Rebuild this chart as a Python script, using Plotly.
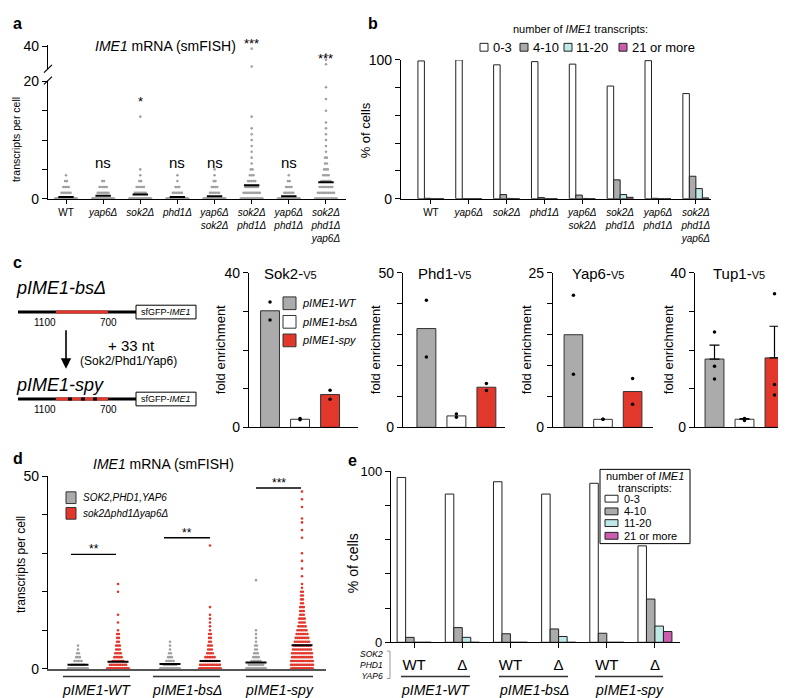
import numpy as np
import plotly.graph_objects as go

W, H = 786, 698
FONT = "Liberation Sans, Arial, Helvetica, sans-serif"


def fx(p):
    return p / W


def fy(p):
    return 1 - p / H


# ------------------------------------------------------------------ DATA
# Panel a: IME1 smFISH, transcripts per cell (value: number of cells drawn)
strains = ["WT", "yap6Δ", "sok2Δ", "phd1Δ", "yap6Δ sok2Δ",
           "sok2Δ phd1Δ", "yap6Δ phd1Δ", "sok2Δ phd1Δ yap6Δ"]
a_WT = {0: 60, 1: 6, 2: 4, 3: 2, 4: 1}
a_yap6 = {0: 60, 1: 7, 2: 5, 3: 2}
a_sok2 = {0: 60, 1: 7, 2: 5, 3: 2, 4: 1, 5: 1, 14: 1}
a_phd1 = {0: 60, 1: 6, 2: 3, 3: 1, 4: 1}
a_yap6sok2 = {0: 60, 1: 6, 2: 4, 3: 2, 4: 1, 5: 1}
a_sok2phd1 = {0: 50, 1: 10, 2: 8, 3: 5, 4: 3, 5: 2, 6: 1, 7: 1, 8: 1, 9: 1,
              10: 1, 11: 1, 12: 1, 14: 1, 22: 1, 38: 1}
a_yap6phd1 = {0: 60, 1: 6, 2: 4, 3: 2, 4: 1}
a_triple = {0: 45, 1: 10, 2: 8, 3: 6, 4: 4, 5: 3, 6: 2, 7: 2, 8: 1, 9: 1,
            10: 1, 11: 1, 12: 1, 13: 1, 15: 1, 17: 1, 19: 1, 24: 1, 28: 1, 33: 1}
a_counts = [a_WT, a_yap6, a_sok2, a_phd1, a_yap6sok2, a_sok2phd1, a_yap6phd1, a_triple]
a_mean = [0.3, 0.5, 0.7, 0.3, 0.4, 2.3, 0.4, 2.8]
a_sig = ["", "ns", "*", "ns", "ns", "***", "ns", "***"]

# Panel b: % of cells per transcript class
b_classes = ["0-3", "4-10", "11-20", "21 or more"]
b_0_3 = [99.3, 100, 96.5, 98.8, 97.0, 81.2, 99.5, 75.8]
b_4_10 = [0.3, 0, 3.0, 0.8, 2.6, 13.6, 0.3, 16.2]
b_11_20 = [0, 0, 0.2, 0, 0.2, 3.0, 0, 7.3]
b_21 = [0, 0, 0, 0, 0, 1.0, 0, 0.6]

# Panel c: ChIP fold enrichment
c_groups = ["pIME1-WT", "pIME1-bsΔ", "pIME1-spy"]
sok2_mean = [30.2, 2.1, 8.5]
sok2_reps = [[32.5, 27.8], [2.3, 2.0], [9.6, 7.3]]
phd1_mean = [32.0, 3.7, 13.0]
phd1_reps = [[41.2, 22.8], [4.3, 3.3], [14.2, 11.9]]
yap6_mean = [15.0, 1.3, 5.8]
yap6_reps = [[21.4, 8.6], [1.3, 1.3], [7.9, 3.75]]
tup1_mean = [17.7, 2.1, 18.0]
tup1_reps = [[24.7, 15.8, 12.5], [2.3, 2.2, 1.8], [34.6, 11.1, 8.4]]
tup1_sem = [3.6, 0.15, 8.2]

# Panel d: smFISH per promoter, wild type (gray) vs triple deletion (red)
d_labels = ["pIME1-WT", "pIME1-bsΔ", "pIME1-spy"]
d_gray_WT = {0: 60, 1: 8, 2: 5, 3: 3, 4: 2, 5: 1, 6: 1}
d_red_WT = {0: 60, 1: 10, 2: 7, 3: 5, 4: 4, 5: 3, 6: 3, 7: 2, 8: 2, 9: 2, 10: 1,
            12: 1, 14: 1, 20: 1, 22: 1}
d_gray_bs = {0: 60, 1: 8, 2: 5, 3: 3, 4: 2, 5: 1, 6: 1, 7: 1}
d_red_bs = {0: 60, 1: 12, 2: 8, 3: 6, 4: 4, 5: 3, 6: 3, 7: 2, 8: 2, 9: 2, 10: 1,
            11: 1, 12: 1, 13: 1, 14: 1, 16: 1, 32: 1}
d_gray_spy = {0: 60, 1: 9, 2: 6, 3: 4, 4: 3, 5: 2, 6: 2, 7: 1, 8: 1, 9: 1, 10: 1, 23: 1}
d_red_spy = {0: 60, 1: 14, 2: 13, 3: 12, 4: 12, 5: 11, 6: 10, 7: 9, 8: 8, 9: 7,
             10: 6, 11: 5, 12: 4, 13: 4, 14: 3, 15: 3, 16: 3, 17: 2, 18: 2, 19: 2,
             20: 2, 21: 1, 22: 1, 24: 1, 26: 1, 28: 1, 30: 1, 34: 1, 36: 1, 38: 1,
             39: 1, 42: 1, 44: 1, 46: 1}
d_gray = [d_gray_WT, d_gray_bs, d_gray_spy]
d_red = [d_red_WT, d_red_bs, d_red_spy]
d_gray_mean = [1.0, 1.2, 1.6]
d_red_mean = [1.8, 2.0, 6.1]
d_sig = ["**", "**", "***"]

# Panel e: % of cells per transcript class
e_cats = ["WT", "Δ", "WT", "Δ", "WT", "Δ"]
e_0_3 = [96.4, 86.7, 93.9, 86.7, 93.0, 56.4]
e_4_10 = [2.9, 8.6, 5.0, 7.8, 5.3, 25.3]
e_11_20 = [0, 2.9, 0, 3.4, 0, 9.5]
e_21 = [0, 0, 0, 0, 0, 6.3]

# ------------------------------------------------------------------ STYLE
C_WHITE, C_GRAY, C_CYAN, C_MAG = "#ffffff", "#ababab", "#bfe9e7", "#cc5cb0"
C_RED = "#e2372b"
C_DOTG = "#a0a0a0"
class_colors = [C_WHITE, C_GRAY, C_CYAN, C_MAG]

fig = go.Figure()
ann, shp = [], []


def txt(x, y, s, size=12, xa="center", ya="middle", angle=0, color="black", align="center"):
    ann.append(dict(x=fx(x), y=fy(y), xref="paper", yref="paper", text=s,
                    showarrow=False, font=dict(family=FONT, size=size, color=color),
                    xanchor=xa, yanchor=ya, textangle=angle, align=align))


def line(x0, y0, x1, y1, color="black", width=1.2):
    shp.append(dict(type="line", xref="paper", yref="paper", x0=fx(x0), y0=fy(y0),
                    x1=fx(x1), y1=fy(y1), line=dict(color=color, width=width)))


def rect(x0, y0, x1, y1, fill="white", color="black", width=1):
    shp.append(dict(type="rect", xref="paper", yref="paper", x0=fx(x0), y0=fy(y0),
                    x1=fx(x1), y1=fy(y1), fillcolor=fill, line=dict(color=color, width=width)))


def rows(center, counts, ppu, step=1.8, maxw=22):
    xs, ys = [], []
    for v, n in counts.items():
        w = min((n - 1) * step, maxw)
        offs = np.linspace(-w / 2, w / 2, n) if n > 1 else np.array([0.0])
        xs.extend((center + offs / ppu).tolist())
        ys.extend([v] * n)
    return xs, ys


def tick_label(s):
    if s == "WT":
        return "WT"
    return "<br>".join(f"<i>{p}</i>" for p in s.split())


AX = dict(showgrid=False, zeroline=False, showline=True, linecolor="black",
          linewidth=1.2, ticks="outside", tickcolor="black", tickwidth=1.2,
          ticklen=5, tickfont=dict(family=FONT, size=14, color="black"))

# ------------------------------------------------------------------ PANEL a
ppu_a = 37.14
lx, ly, ux, uy = [], [], [], []
for i, cnt in enumerate(a_counts):
    xs, ys = rows(i, cnt, ppu_a)
    for xv, yv in zip(xs, ys):
        if yv <= 20:
            lx.append(xv); ly.append(yv)
        else:
            ux.append(xv); uy.append(yv)
fig.add_trace(go.Scatter(x=lx, y=ly, mode="markers", xaxis="x", yaxis="y",
                         marker=dict(size=2.6, color=C_DOTG), hoverinfo="skip"))
fig.add_trace(go.Scatter(x=ux, y=uy, mode="markers", xaxis="x", yaxis="y2",
                         marker=dict(size=2.6, color=C_DOTG), hoverinfo="skip"))
fig.add_trace(go.Scatter(x=list(range(len(strains))), y=a_mean, mode="markers",
                         xaxis="x", yaxis="y",
                         marker=dict(symbol="line-ew", size=11, line=dict(width=2, color="black"))))

# ------------------------------------------------------------------ PANEL b
wb = 6.5 / 37.86
for k, (vals, nm) in enumerate(zip([b_0_3, b_4_10, b_11_20, b_21], b_classes)):
    fig.add_trace(go.Bar(x=list(range(len(strains))), y=vals, xaxis="x2", yaxis="y3",
                         width=wb, offset=(k - 2) * wb, name=nm,
                         marker=dict(color=class_colors[k], line=dict(color="#222", width=1))))

# ------------------------------------------------------------------ PANEL c
c_sets = [(sok2_mean, sok2_reps, None), (phd1_mean, phd1_reps, None),
          (yap6_mean, yap6_reps, None), (tup1_mean, tup1_reps, tup1_sem)]
for j, (mean, reps, sem) in enumerate(c_sets):
    xa, ya = f"x{3 + j}", f"y{4 + j}"
    bar = dict(x=[0, 1, 2], y=mean, xaxis=xa, yaxis=ya, width=0.63,
               marker=dict(color=[C_GRAY, C_WHITE, C_RED], line=dict(color="#333", width=1)))
    if sem is not None:
        bar["error_y"] = dict(type="data", symmetric=False, array=sem, arrayminus=[0, 0, 0],
                              color="black", thickness=1.2, width=5)
    fig.add_trace(go.Bar(**bar))
    rx, ry = [], []
    for g, rv in enumerate(reps):
        rx.extend([g] * len(rv)); ry.extend(rv)
    fig.add_trace(go.Scatter(x=rx, y=ry, mode="markers", xaxis=xa, yaxis=ya,
                             marker=dict(size=3.5, color="black")))

# ------------------------------------------------------------------ PANEL d
d_pos_gray = [0, 2.3, 4.45]
d_pos_red = [1, 3.3, 5.6]
ppu_d = 40
gx, gy, rx_, ry_ = [], [], [], []
for i in range(3):
    xs, ys = rows(d_pos_gray[i], d_gray[i], ppu_d, maxw=20)
    gx += xs; gy += ys
    xs, ys = rows(d_pos_red[i], d_red[i], ppu_d, maxw=22)
    rx_ += xs; ry_ += ys
fig.add_trace(go.Scatter(x=gx, y=gy, mode="markers", xaxis="x7", yaxis="y8",
                         marker=dict(size=2.6, color=C_DOTG)))
fig.add_trace(go.Scatter(x=rx_, y=ry_, mode="markers", xaxis="x7", yaxis="y8",
                         marker=dict(size=2.6, color=C_RED)))
fig.add_trace(go.Scatter(x=d_pos_gray + d_pos_red, y=d_gray_mean + d_red_mean,
                         mode="markers", xaxis="x7", yaxis="y8",
                         marker=dict(symbol="line-ew", size=15, line=dict(width=2, color="black"))))

# ------------------------------------------------------------------ PANEL e
we = 8.5 / 48.2
for k, (vals, nm) in enumerate(zip([e_0_3, e_4_10, e_11_20, e_21], b_classes)):
    fig.add_trace(go.Bar(x=list(range(len(e_cats))), y=vals, xaxis="x8", yaxis="y9",
                         width=we, offset=(k - 2) * we, name=nm,
                         marker=dict(color=class_colors[k], line=dict(color="#222", width=1))))

# ------------------------------------------------------------------ AXES
lay = {}
lay["xaxis"] = dict(AX, domain=[fx(40), fx(338)], range=[-0.485, 7.54], anchor="y",
                    tickvals=list(range(8)), ticktext=[tick_label(s) for s in strains],
                    tickfont=dict(family=FONT, size=10, color="black"), ticklen=4)
lay["yaxis"] = dict(AX, domain=[fy(187), fy(67)], range=[0, 20], anchor="x",
                    tickvals=[0, 5, 10, 15, 20], ticktext=["0", "", "", "", "20"])
lay["yaxis2"] = dict(AX, domain=[fy(54), fy(30)], range=[20, 41], anchor="x",
                     tickvals=[40], ticktext=["40"])
lay["xaxis2"] = dict(AX, domain=[fx(393), fx(703)], range=[-0.79, 7.4], anchor="y3",
                     tickvals=list(range(8)), ticktext=[tick_label(s) for s in strains],
                     tickfont=dict(family=FONT, size=10, color="black"), ticklen=4)
lay["yaxis3"] = dict(AX, domain=[fy(187), fy(45)], range=[0, 100], anchor="x2",
                     tickvals=[0, 20, 40, 60, 80, 100], ticktext=["0", "", "", "", "", "100"])
c_dom = [(241, 350, -0.7, 2.93, 40, 10), (395, 497, -0.78, 2.62, 50, 10),
         (545, 645, -0.69, 2.69, 25, 5), (687, 786, -0.65, 2.65, 40, 10)]
for j, (x0, x1, r0, r1, ymax, step) in enumerate(c_dom):
    tv = list(range(0, ymax + 1, step))
    lay[f"xaxis{3 + j}"] = dict(AX, domain=[fx(x0), fx(x1)], range=[r0, r1],
                                anchor=f"y{4 + j}", ticks="", showticklabels=False)
    lay[f"yaxis{4 + j}"] = dict(AX, domain=[fy(421), fy(263)], range=[0, ymax],
                                anchor=f"x{3 + j}", tickvals=tv,
                                ticktext=["0"] + [""] * (len(tv) - 2) + [str(ymax)])
lay["xaxis7"] = dict(AX, domain=[fx(40), fx(318)], range=[-0.75, 6.2], anchor="y8",
                     ticks="", showticklabels=False, linecolor="#555", linewidth=2)
lay["yaxis8"] = dict(AX, domain=[fy(668), fy(471)], range=[0, 50], anchor="x7",
                     tickvals=[0, 10, 20, 30, 40, 50], ticktext=["0", "", "", "", "", "50"])
lay["xaxis8"] = dict(AX, domain=[fx(383), fx(672)], range=[-0.48, 5.52], anchor="y9",
                     tickvals=list(range(6)), ticktext=e_cats,
                     tickfont=dict(family=FONT, size=15, color="black"), ticklabelstandoff=4)
lay["yaxis9"] = dict(AX, domain=[fy(641), fy(466)], range=[0, 100], anchor="x8",
                     tickvals=[0, 20, 40, 60, 80, 100], ticktext=["0", "", "", "", "", "100"],
                     tickfont=dict(family=FONT, size=13, color="black"))

# ------------------------------------------------------------------ ANNOTATIONS / SHAPES
# panel letters
for s, x, y in [("a", 3, 8), ("b", 358, 8), ("c", 3, 252), ("d", 3, 453), ("e", 338, 455)]:
    txt(x, y, f"<b>{s}</b>", size=16, xa="left")

# panel a
txt(157, 31, "<i>IME1</i> mRNA (smFISH)", size=14)
txt(8, 127, "transcripts per cell", size=10.5, angle=-90)
sig_y = {"ns": 150, "*": 87, "***": 28}
for i, s in enumerate(a_sig):
    if not s:
        continue
    px = 58 + i * 37.14
    yy = sig_y[s]
    if i == 7:
        yy = 43
    txt(px, yy, s, size=15 if s == "ns" else 13)
line(36, 58, 44, 50, width=1.2)
line(36, 70, 44, 62, width=1.2)

# panel b
txt(357, 117, "% of cells", size=13, angle=-90)
txt(572, 13, "number of <i>IME1</i> transcripts:", size=11)
for k, (bx, tx, nm) in enumerate([(472, 483, "0-3"), (512, 523, "4-10"),
                                   (556, 566, "11-20"), (611, 622, "21 or more")]):
    rect(bx, 28, bx + 8, 36, fill=class_colors[k], color="#222")
    txt(tx, 32, nm, size=13, xa="left")

# panel c diagram
txt(6, 278, "<i>pIME1-bsΔ</i>", size=18, xa="left")
txt(6, 378, "<i>pIME1-spy</i>", size=18, xa="left")
for yl in (303, 392):
    line(10, yl, 128, yl, width=3)
    line(48, yl, 100, yl, color=C_RED, width=3)
    rect(128, yl - 7, 188, yl + 7, fill="white", color="black", width=1)
    txt(158, yl, "sfGFP-<i>IME1</i>", size=9)
    txt(37, yl + 11, "1100", size=10)
    txt(100, yl + 11, "700", size=10)
for mx in (62, 75, 87):
    line(mx - 2, 392, mx + 2, 392, width=3)
ann.append(dict(x=fx(58), y=fy(361), ax=0, ay=-40, xref="paper", yref="paper",
                showarrow=True, arrowhead=2, arrowsize=1.3, arrowwidth=1.6,
                arrowcolor="black", text=""))
txt(123, 337, "+ 33 nt", size=15)
txt(121, 353, "(Sok2/Phd1/Yap6)", size=12)

# panel c chart titles and axis titles
for nm, cx in [("Sok2", 282), ("Phd1", 437), ("Yap6", 590), ("Tup1", 731)]:
    txt(cx, 264, f"{nm}-<span style='font-size:11px'>V5</span>", size=15)
for yt_x in (212, 367, 518, 660):
    txt(yt_x, 342, "fold enrichment", size=13, angle=-90)
for k, (by, nm) in enumerate([(294, "pIME1-WT"), (313, "pIME1-bsΔ"), (332, "pIME1-spy")]):
    rect(275, by - 6.5, 288, by + 6.5, fill=[C_GRAY, C_WHITE, C_RED][k], color="#333")
    txt(292, by, f"<i>{nm}</i>", size=11, xa="left")

# panel d
txt(155, 458, "<i>IME1</i> mRNA (smFISH)", size=14)
txt(13, 562, "transcripts per cell", size=12, angle=-90)
rect(58, 487, 68, 499, fill=C_GRAY, color="#333")
rect(58, 503, 68, 515, fill=C_RED, color="#333")
txt(73, 493, "<i>SOK2,PHD1,YAP6</i>", size=10, xa="left")
txt(73, 509, "<i>sok2Δphd1Δyap6Δ</i>", size=10, xa="left")
for (x0, x1, yl, s) in [(63, 108, 551, "**"), (156, 202, 534, "**"), (248, 293, 483, "***")]:
    line(x0, yl, x1, yl, width=1.4)
    txt((x0 + x1) / 2, yl - 5, s, size=12)
for (x0, x1), s in zip([(55, 122), (145, 212), (238, 305)], d_labels):
    line(x0, 676, x1, 676, width=1.5, color="#333")
    txt((x0 + x1) / 2, 690, f"<i>{s}</i>", size=14)

# panel e
txt(345, 560, "% of cells", size=14, angle=-90)
for (x0, x1), s in zip([(393, 462), (491, 560), (587, 655)], d_labels):
    line(x0, 676, x1, 676, width=1.5, color="#333")
    txt((x0 + x1) / 2, 690, f"<i>{s}</i>", size=14)
txt(377, 664, "<i>SOK2</i><br><i>PHD1</i><br><i>YAP6</i>", size=8.5, xa="right", align="right")
line(382, 650, 382, 678, color="#999", width=1)
line(379, 650, 382, 650, color="#999", width=1)
line(379, 678, 382, 678, color="#999", width=1)
rect(592, 464, 682, 540, fill="white", color="black", width=1)
txt(637, 471, "number of <i>IME1</i>", size=11)
txt(637, 483, "transcripts:", size=11)
for k, (yy, nm) in enumerate([(494, "0-3"), (507, "4-10"), (519, "11-20"), (532, "21 or more")]):
    rect(597, yy - 3.5, 610, yy + 3.5, fill=class_colors[k], color="#222")
    txt(614, yy, nm, size=11, xa="left")

fig.update_layout(
    width=W, height=H, margin=dict(l=0, r=0, t=0, b=0),
    paper_bgcolor="white", plot_bgcolor="white", showlegend=False,
    barmode="overlay", font=dict(family=FONT, color="black"),
    annotations=ann, shapes=shp, **lay)

fig.write_html("out.html")
